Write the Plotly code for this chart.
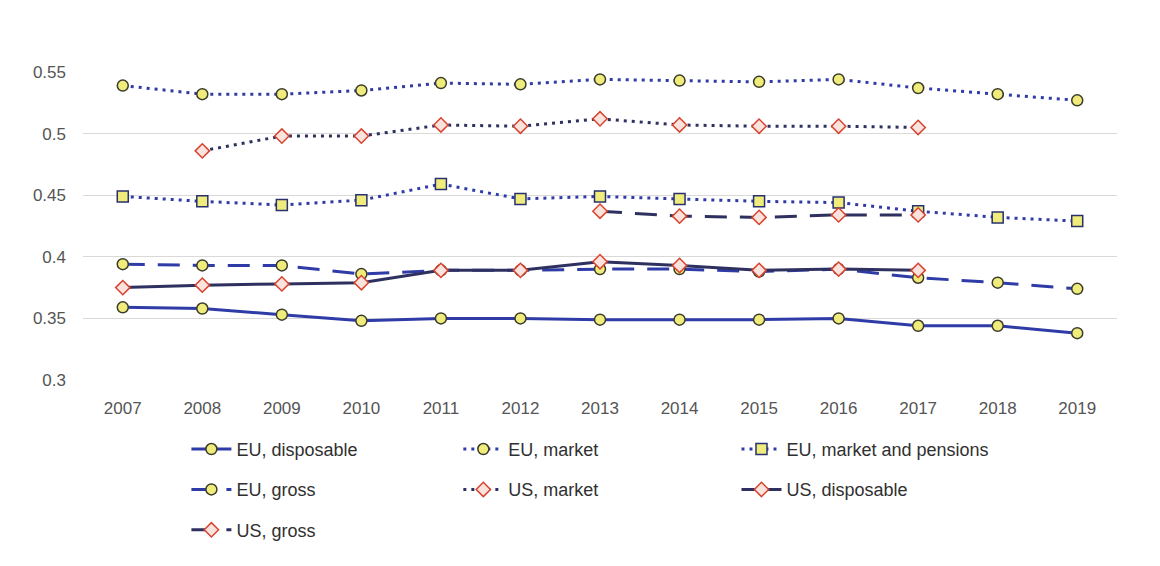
import plotly.graph_objects as go

years = ["2007", "2008", "2009", "2010", "2011", "2012", "2013",
         "2014", "2015", "2016", "2017", "2018", "2019"]

eu_disposable = [0.359, 0.358, 0.353, 0.348, 0.350, 0.350, 0.349, 0.349, 0.349, 0.350, 0.344, 0.344, 0.338]
eu_market = [0.539, 0.532, 0.532, 0.535, 0.541, 0.540, 0.544, 0.543, 0.542, 0.544, 0.537, 0.532, 0.527]
eu_market_pensions = [0.449, 0.445, 0.442, 0.446, 0.459, 0.447, 0.449, 0.447, 0.445, 0.444, 0.437, 0.432, 0.429]
eu_gross = [0.394, 0.393, 0.393, 0.386, 0.389, 0.389, 0.390, 0.390, 0.388, 0.390, 0.383, 0.379, 0.374]
us_market = [None, 0.486, 0.498, 0.498, 0.507, 0.506, 0.512, 0.507, 0.506, 0.506, 0.505, None, None]
us_disposable = [0.375, 0.377, 0.378, 0.379, 0.389, 0.389, 0.396, 0.393, 0.389, 0.390, 0.389, None, None]
us_gross = [None, None, None, None, None, None, 0.437, 0.433, 0.432, 0.434, 0.434, None, None]

y_ticks = [0.3, 0.35, 0.4, 0.45, 0.5, 0.55]
y_tick_text = ["0.3", "0.35", "0.4", "0.45", "0.5", "0.55"]

BLUE = "#2F3CA8"
NAVY = "#2E3160"
YELLOW = "#EFEC7C"
RED = "#D8432E"
PINK = "#FBE3DD"

DOT = "3px,5px"
DASH = "22px,13px"

font_family = "Liberation Sans, Arial, sans-serif"

fig = go.Figure()

def add(name, y, color, dash, symbol, fill, mline, msize, legend, width=3):
    fig.add_trace(go.Scatter(
        x=years, y=y, name=name, mode="lines+markers",
        line=dict(color=color, width=width, dash=dash),
        marker=dict(symbol=symbol, size=msize, color=fill,
                    line=dict(color=mline, width=1.5)),
        connectgaps=False, legend=legend, legendgroup=name,
    ))

add("EU, disposable", eu_disposable, BLUE, "solid", "circle", YELLOW, "#3B3B2A", 11, "legend")
add("EU, market", eu_market, BLUE, DOT, "circle", YELLOW, "#3B3B2A", 11, "legend2")
add("EU, market and pensions", eu_market_pensions, BLUE, DOT, "square", YELLOW, "#28306E", 11, "legend3")
add("EU, gross", eu_gross, BLUE, DASH, "circle", YELLOW, "#3B3B2A", 11, "legend")
add("US, market", us_market, NAVY, DOT, "diamond", PINK, RED, 11, "legend2")
add("US, disposable", us_disposable, NAVY, "solid", "diamond", PINK, RED, 11, "legend3")
add("US, gross", us_gross, NAVY, DASH, "diamond", PINK, RED, 11, "legend")

leg_common = dict(
    orientation="v", xanchor="left", yanchor="top", y=-0.165,
    font=dict(size=18, color="#303030"), tracegroupgap=14,
    bgcolor="rgba(0,0,0,0)", itemwidth=40,
)

fig.update_layout(
    width=1160, height=566,
    paper_bgcolor="white", plot_bgcolor="white",
    margin=dict(l=75, r=51, t=64, b=194, autoexpand=False),
    font=dict(family=font_family, size=16, color="#404040"),
    showlegend=True,
    legend=dict(x=0.1, **leg_common),
    legend2=dict(x=0.363, **leg_common),
    legend3=dict(x=0.632, **leg_common),
    xaxis=dict(
        type="category", range=[-0.5, len(years) - 0.5],
        showgrid=False, zeroline=False, showline=False,
        ticks="", ticklabelstandoff=16, automargin=False,
        tickfont=dict(size=17, color="#555555"),
    ),
    yaxis=dict(
        range=[0.3, 0.55], tickvals=y_ticks, ticktext=y_tick_text,
        showgrid=True, gridcolor="#D9D9D9", gridwidth=1, zeroline=False,
        showline=False, ticks="", ticklabelstandoff=16, automargin=False,
        tickfont=dict(size=17, color="#555555"),
    ),
)

fig.write_html("out.html")
